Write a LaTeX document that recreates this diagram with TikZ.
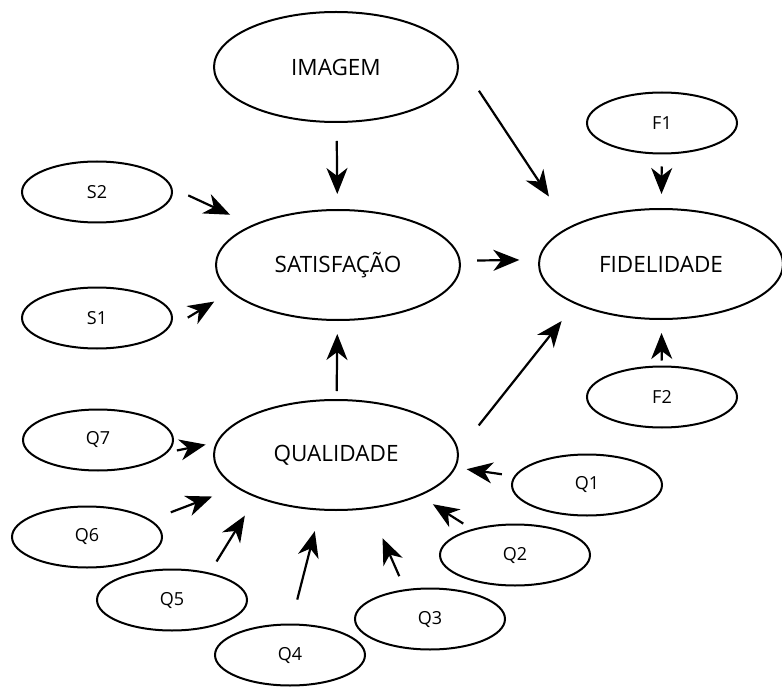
\documentclass[tikz,border=0pt]{standalone}
\usepackage{fontspec}
\setmainfont{Open Sans}
\usetikzlibrary{shapes.geometric,arrows.meta}
\begin{document}
\begin{tikzpicture}[x=1pt,y=-1pt,
  big/.style={ellipse,draw,line width=2pt,minimum width=244pt,minimum height=110pt,
    inner sep=0pt,font=\fontsize{22.5}{26}\selectfont},
  small/.style={ellipse,draw,line width=2pt,minimum width=150pt,minimum height=61pt,
    inner sep=0pt,font=\fontsize{18}{22}\selectfont},
  link/.style={line width=2.2pt,-{Stealth[length=26pt,width=21pt,inset=8pt]}}]
\useasboundingbox (0,0) rectangle (782,687);

% latent constructs
\node[big] (img)  at (336,67)  {IMAGEM};
\node[big] (sat)  at (338,265) {SATISFAÇÃO};
\node[big] (fid)  at (661,264) {FIDELIDADE};
\node[big] (qual) at (336,455) {QUALIDADE};

% indicators
\node[small] (f1) at (662,123) {F1};
\node[small] (f2) at (662,397) {F2};
\node[small] (s2) at (97,192)  {S2};
\node[small] (s1) at (97,318)  {S1};
\node[small] (q7) at (98,440)  {Q7};
\node[small] (q6) at (87,537)  {Q6};
\node[small] (q5) at (172,600) {Q5};
\node[small] (q4) at (290,655) {Q4};
\node[small] (q3) at (430,619) {Q3};
\node[small] (q2) at (515,555) {Q2};
\node[small] (q1) at (587,485) {Q1};

% structural paths
\draw[link,shorten <=18pt,shorten >=15pt] (img) -- (sat);
\draw[link,shorten <=38.7pt,shorten >=36.4pt] (img.4) -- (fid.158);
\draw[link,shorten <=16.4pt,shorten >=19pt] (sat.2) -- (fid.178);
\draw[link,shorten <=8pt,shorten >=13pt] (qual) -- (sat);
\draw[link,shorten <=32.3pt,shorten >=21.6pt] (qual.2) -- (fid.205);

% indicator paths
\draw[link,shorten <=17.5pt,shorten >=24.2pt] (s2.3) -- (sat.155);
\draw[link,shorten <=24.4pt,shorten >=18.6pt] (s1.350) -- (sat.194);
\draw[link,shorten <=12pt,shorten >=14pt] (f1) -- (fid);
\draw[link,shorten <=5pt,shorten >=13pt] (f2) -- (fid);
\draw[link,shorten <=9.2pt,shorten >=10.7pt] (q7.350) -- (qual.174);
\draw[link,shorten <=21.4pt,shorten >=25.3pt] (q6.15) -- (qual.198);
\draw[link,shorten <=13.1pt,shorten >=21.3pt] (q5.36) -- (qual.208);
\draw[link,shorten <=24.7pt,shorten >=21.3pt] (q4.88) -- (qual.254);
\draw[link,shorten <=14.3pt,shorten >=32pt] (q3.130) -- (qual.302);
\draw[link,shorten <=10.2pt,shorten >=15.4pt] (q2.149) -- (qual.334);
\draw[link,shorten <=12.4pt,shorten >=10.9pt] (q1.173) -- (qual.354);
\end{tikzpicture}
\end{document}
